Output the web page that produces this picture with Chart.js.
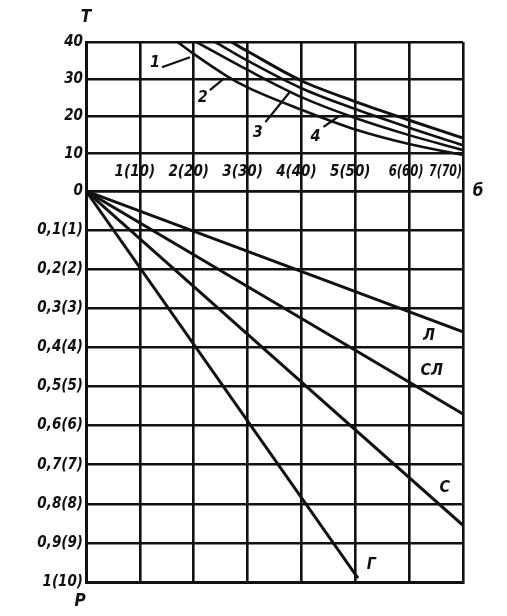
<!DOCTYPE html>
<html>
<head>
<meta charset="utf-8">
<script src="https://cdn.jsdelivr.net/npm/chart.js@4.4.0/dist/chart.umd.min.js"></script>
<style>
  body { margin: 0; background: #fff; }
  canvas { display: block; }
</style>
</head>
<body>
<canvas id="nomo" width="507" height="616"></canvas>
<script>
// G axis (shared by both fields)
const gTicks = [0, 1, 2, 3, 4, 5, 6, 7];
const gTickLabels = ["", "1(10)", "2(20)", "3(30)", "4(40)", "5(50)", "6(60)", "7(70)"];

// upper field: T
const tTicks = [0, 10, 20, 30, 40];
const tTickLabels = ["0", "10", "20", "30", "40"];

// lower field: P
const pTicks = [0, 0.1, 0.2, 0.3, 0.4, 0.5, 0.6, 0.7, 0.8, 0.9, 1];
const pTickLabels = ["", "0,1(1)", "0,2(2)", "0,3(3)", "0,4(4)", "0,5(5)", "0,6(6)", "0,7(7)", "0,8(8)", "0,9(9)", "1(10)"];

// curves 1-4 (T against G)
const curve1G = [1.7, 2, 2.6, 3, 4, 5, 6, 7];
const curve1T = [40, 36.8, 31, 27.8, 21.8, 16.5, 12.6, 9.7];
const curve2G = [2.05, 3, 4, 5, 6, 7];
const curve2T = [40, 32.5, 25.2, 19.6, 15, 11];
const curve3G = [2.4, 3, 4, 5, 6, 7];
const curve3T = [40, 35, 27.6, 22, 17, 12.3];
const curve4G = [2.7, 3, 4, 5, 6, 7];
const curve4T = [40, 37.5, 29.6, 24, 19, 14.2];

// lines Л, СЛ, С, Г (P against G)
const lineLG = [0, 7];
const lineLP = [0, 0.36];
const lineSLG = [0, 7];
const lineSLP = [0, 0.57];
const lineSG = [0, 7];
const lineSP = [0, 0.855];
const lineGG = [0, 5.05];
const lineGP = [0, 0.99];

// leader strokes from the numbers to the curves
const leader1G = [1.41, 1.93];
const leader1T = [33.2, 35.9];
const leader2G = [2.3, 2.57];
const leader2T = [27.1, 30.3];
const leader3G = [3.33, 3.78];
const leader3T = [18.5, 26.5];
const leader4G = [4.41, 4.7];
const leader4T = [17.2, 20.1];

const fontFamily = "'DejaVu Sans Condensed', 'DejaVu Sans', sans-serif";
const ink = "#111";

function pts(xs, ys) {
  return xs.map((x, i) => ({ x: x, y: ys[i] }));
}

function curve(xs, ys, axis, width) {
  return {
    data: pts(xs, ys),
    yAxisID: axis,
    borderColor: ink,
    borderWidth: width,
    pointRadius: 0,
    cubicInterpolationMode: "monotone",
    fill: false
  };
}

const datasets = [
  curve(curve1G, curve1T, "yT", 2.6),
  curve(curve2G, curve2T, "yT", 2.6),
  curve(curve3G, curve3T, "yT", 2.6),
  curve(curve4G, curve4T, "yT", 3),
  curve(leader1G, leader1T, "yT", 2.2),
  curve(leader2G, leader2T, "yT", 2.2),
  curve(leader3G, leader3T, "yT", 2.2),
  curve(leader4G, leader4T, "yT", 2.2),
  curve(lineLG, lineLP, "yP", 3),
  curve(lineSLG, lineSLP, "yP", 3),
  curve(lineSG, lineSP, "yP", 3),
  curve(lineGG, lineGP, "yP", 3)
];

// curve names, placed in data units
const curveNames = [
  { text: "1", g: 1.28, v: 34.3, axis: "yT" },
  { text: "2", g: 2.17, v: 25, axis: "yT" },
  { text: "3", g: 3.19, v: 15.6, axis: "yT" },
  { text: "4", g: 4.26, v: 14.6, axis: "yT" },
  { text: "Л", g: 6.37, v: 0.37, axis: "yP" },
  { text: "СЛ", g: 6.42, v: 0.46, axis: "yP" },
  { text: "С", g: 6.66, v: 0.76, axis: "yP" },
  { text: "Г", g: 5.3, v: 0.955, axis: "yP" }
];

const textPlugin = {
  id: "nomoText",
  afterDraw(chart) {
    const ctx = chart.ctx;
    const x = chart.scales.x;
    const yT = chart.scales.yT;
    const yP = chart.scales.yP;
    ctx.save();
    ctx.fillStyle = ink;
    ctx.textBaseline = "middle";

    // G tick labels sit inside the 0-10 band of the upper field
    ctx.font = "italic bold 15px " + fontFamily;
    const rowY = yT.getPixelForValue(5);
    for (let i = 1; i < gTicks.length; i++) {
      const px = x.getPixelForValue(gTicks[i]);
      if (i === gTicks.length - 1) {
        ctx.textAlign = "right";
        ctx.fillText(gTickLabels[i], px - 1, rowY, 33);
      } else if (i === gTicks.length - 2) {
        ctx.textAlign = "center";
        ctx.fillText(gTickLabels[i], px - 3, rowY, 35);
      } else {
        ctx.textAlign = "center";
        ctx.fillText(gTickLabels[i], px - 5, rowY);
      }
    }

    // curve names
    ctx.font = "italic bold 16px " + fontFamily;
    ctx.textAlign = "center";
    curveNames.forEach(n => {
      const sc = n.axis === "yT" ? yT : yP;
      ctx.fillText(n.text, x.getPixelForValue(n.g), sc.getPixelForValue(n.v));
    });

    // axis names
    ctx.font = "italic bold 17px " + fontFamily;
    ctx.fillText("T", x.left, yT.top - 24);
    ctx.fillText("P", x.left - 6, yP.bottom + 20);
    ctx.fillText("б", x.right + 15, yP.top + 1);
    ctx.restore();
  }
};

const tickFont = { family: fontFamily, size: 15, style: "italic", weight: "bold" };
const gridStyle = { color: ink, lineWidth: 2.6, drawTicks: false };
const borderStyle = { color: ink, width: 3 };

new Chart(document.getElementById("nomo"), {
  type: "line",
  data: { datasets: datasets },
  plugins: [textPlugin],
  options: {
    responsive: false,
    animation: false,
    layout: { padding: { top: 42, right: 44, bottom: 34, left: 0 } },
    plugins: { legend: { display: false }, tooltip: { enabled: false } },
    scales: {
      x: {
        type: "linear",
        min: 0,
        max: 7,
        afterBuildTicks(scale) { scale.ticks = gTicks.map(v => ({ value: v })); },
        ticks: { display: false, autoSkip: false },
        grid: gridStyle,
        border: borderStyle,
        afterFit(scale) { scale.height = 0; }
      },
      yP: {
        type: "linear",
        position: "left",
        stack: "field",
        stackWeight: 391,
        reverse: true,
        min: 0,
        max: 1,
        afterBuildTicks(scale) { scale.ticks = pTicks.map(v => ({ value: v })); },
        ticks: {
          color: ink,
          font: tickFont,
          padding: 3,
          autoSkip: false,
          callback: (v, i) => pTickLabels[i]
        },
        grid: gridStyle,
        border: borderStyle,
        afterFit(scale) { scale.width = 86; }
      },
      yT: {
        type: "linear",
        position: "left",
        stack: "field",
        stackWeight: 149,
        min: 0,
        max: 40,
        afterBuildTicks(scale) { scale.ticks = tTicks.map(v => ({ value: v })); },
        ticks: {
          color: ink,
          font: tickFont,
          padding: 3,
          autoSkip: false,
          callback: (v, i) => tTickLabels[i]
        },
        grid: gridStyle,
        border: borderStyle,
        afterFit(scale) { scale.width = 86; }
      }
    }
  }
});
</script>
</body>
</html>
